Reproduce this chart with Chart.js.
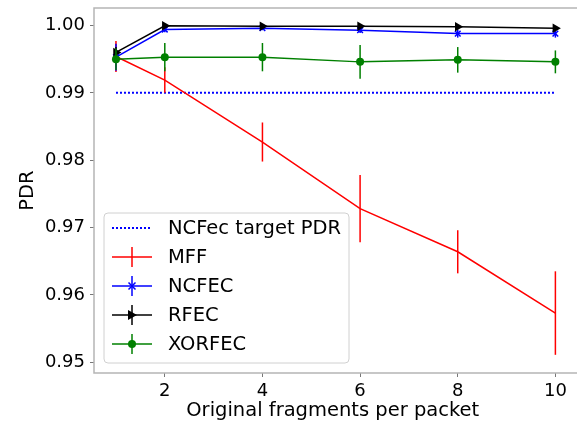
<!DOCTYPE html>
<html>
<head>
<meta charset="utf-8">
<script src="https://cdn.jsdelivr.net/npm/chart.js@4/dist/chart.umd.min.js"></script>
<style>
  html, body { margin: 0; padding: 0; background: #fff; overflow: hidden; }
</style>
</head>
<body>
<canvas id="pdrChart" width="577" height="423"></canvas>
<script>
// data
const fragments = [1, 2, 4, 6, 8, 10];
const xTicks = [2, 4, 6, 8, 10];
const yTicks = [0.95, 0.96, 0.97, 0.98, 0.99, 1.00];

const targetPdr = [0.99, 0.99, 0.99, 0.99, 0.99, 0.99];
const mffPdr = [0.9954, 0.9919, 0.9827, 0.9728, 0.9664, 0.9573];
const mffErr = [0.0023, 0.0019, 0.0029, 0.0050, 0.0032, 0.0062];
const ncfecPdr = [0.9953, 0.9994, 0.9996, 0.9993, 0.9988, 0.9988];
const ncfecErr = [0.0020, 0.0004, 0.0003, 0.0004, 0.0006, 0.0006];
const rfecPdr = [0.9960, 0.99995, 0.9999, 0.9999, 0.9998, 0.9996];
const rfecErr = [0.0008, 0.0001, 0.0001, 0.0001, 0.0001, 0.0001];
const xorPdr = [0.9950, 0.9953, 0.9953, 0.9946, 0.9949, 0.9946];
const xorErr = [0.0016, 0.0021, 0.0021, 0.0025, 0.0019, 0.0017];

const FONT = "'DejaVu Sans', sans-serif";

function pts(ys) {
  return fragments.map((x, i) => ({x: x, y: ys[i]}));
}

// vertical error bars, drawn through the y scale
const errorBars = {
  id: 'errorBars',
  afterDatasetDraw(chart, args) {
    const ds = chart.data.datasets[args.index];
    if (!ds.errors) return;
    const ctx = chart.ctx;
    const yScale = chart.scales.y;
    ctx.save();
    ctx.strokeStyle = ds.borderColor;
    ctx.lineWidth = 1.5;
    args.meta.data.forEach((p, i) => {
      const v = ds.data[i].y, e = ds.errors[i];
      ctx.beginPath();
      ctx.moveTo(p.x, yScale.getPixelForValue(v + e));
      ctx.lineTo(p.x, yScale.getPixelForValue(v - e));
      ctx.stroke();
    });
    ctx.restore();
  }
};

// frame: top, left, bottom (the right spine is outside the crop)
const frame = {
  id: 'frame',
  beforeDatasetsDraw(chart) {
    const a = chart.chartArea, ctx = chart.ctx;
    ctx.save();
    ctx.strokeStyle = '#b5b5b5';
    ctx.lineWidth = 1.5;
    ctx.beginPath();
    ctx.moveTo(chart.width, a.top);
    ctx.lineTo(a.left, a.top);
    ctx.lineTo(a.left, a.bottom);
    ctx.lineTo(chart.width, a.bottom);
    ctx.stroke();
    ctx.restore();
  }
};

function drawMarker(ctx, style, x, y, color) {
  ctx.fillStyle = color;
  ctx.strokeStyle = color;
  ctx.lineWidth = 1.5;
  ctx.beginPath();
  if (style === 'circle') {
    ctx.arc(x, y, 4, 0, Math.PI * 2);
    ctx.fill();
  } else if (style === 'triangle') {
    ctx.moveTo(x + 5, y);
    ctx.lineTo(x - 4, y - 5);
    ctx.lineTo(x - 4, y + 5);
    ctx.closePath();
    ctx.fill();
  } else if (style === 'crossRot') {
    ctx.moveTo(x - 3.5, y - 3.5); ctx.lineTo(x + 3.5, y + 3.5);
    ctx.moveTo(x + 3.5, y - 3.5); ctx.lineTo(x - 3.5, y + 3.5);
    ctx.stroke();
  }
}

const boxLegend = {
  id: 'boxLegend',
  afterDraw(chart) {
    const ctx = chart.ctx;
    const bx = 104, by = 213, bw = 245, bh = 150, r = 4;
    ctx.save();
    ctx.beginPath();
    ctx.moveTo(bx + r, by);
    ctx.arcTo(bx + bw, by, bx + bw, by + bh, r);
    ctx.arcTo(bx + bw, by + bh, bx, by + bh, r);
    ctx.arcTo(bx, by + bh, bx, by, r);
    ctx.arcTo(bx, by, bx + bw, by, r);
    ctx.closePath();
    ctx.fillStyle = 'rgba(255,255,255,0.85)';
    ctx.fill();
    ctx.strokeStyle = '#d0d0d0';
    ctx.lineWidth = 1;
    ctx.stroke();

    ctx.font = '19.5px ' + FONT;
    ctx.textBaseline = 'middle';
    ctx.textAlign = 'left';
    chart.data.datasets.forEach((ds, i) => {
      const y = 228 + i * 29;
      ctx.strokeStyle = ds.borderColor;
      ctx.lineWidth = ds.borderWidth;
      ctx.setLineDash(ds.borderDash || []);
      ctx.beginPath();
      ctx.moveTo(112, y);
      ctx.lineTo(152, y);
      ctx.stroke();
      ctx.setLineDash([]);
      if (ds.errors) {
        ctx.lineWidth = 1.5;
        ctx.beginPath();
        ctx.moveTo(132, y - 10);
        ctx.lineTo(132, y + 10);
        ctx.stroke();
      }
      if (ds.legendMarker) drawMarker(ctx, ds.legendMarker, 132, y, ds.borderColor);
      ctx.fillStyle = '#000';
      ctx.fillText(ds.label, 168, y + 1);
    });
    ctx.restore();
  }
};

new Chart(document.getElementById('pdrChart'), {
  type: 'line',
  data: {
    datasets: [
      {
        label: 'NCFec target PDR',
        data: pts(targetPdr),
        borderColor: '#0000ff',
        borderWidth: 2,
        borderDash: [2, 2],
        pointRadius: 0,
        order: 5
      },
      {
        label: 'MFF',
        data: pts(mffPdr),
        errors: mffErr,
        borderColor: '#ff0000',
        borderWidth: 1.5,
        pointRadius: 0,
        order: 4
      },
      {
        label: 'NCFEC',
        data: pts(ncfecPdr),
        errors: ncfecErr,
        borderColor: '#0000ff',
        backgroundColor: '#0000ff',
        borderWidth: 1.5,
        pointStyle: 'crossRot',
        pointRadius: 4,
        pointBorderWidth: 1.5,
        legendMarker: 'crossRot',
        order: 3
      },
      {
        label: 'RFEC',
        data: pts(rfecPdr),
        errors: rfecErr,
        borderColor: '#000000',
        backgroundColor: '#000000',
        borderWidth: 1.5,
        pointStyle: 'triangle',
        pointRotation: 90,
        pointRadius: 5.5,
        pointBorderWidth: 0,
        legendMarker: 'triangle',
        order: 2
      },
      {
        label: 'XORFEC',
        data: pts(xorPdr),
        errors: xorErr,
        borderColor: '#008000',
        backgroundColor: '#008000',
        borderWidth: 1.5,
        pointStyle: 'circle',
        pointRadius: 4,
        pointBorderWidth: 0,
        legendMarker: 'circle',
        order: 1
      }
    ]
  },
  options: {
    responsive: false,
    animation: false,
    devicePixelRatio: 1,
    layout: { padding: { top: 8, right: 0, left: 0, bottom: 0 } },
    plugins: {
      legend: { display: false },
      tooltip: { enabled: false }
    },
    scales: {
      x: {
        type: 'linear',
        min: 0.55,
        max: 10.33,
        afterBuildTicks: (axis) => { axis.ticks = xTicks.map(v => ({value: v})); },
        afterFit: (axis) => {
          axis.height = 50;
          axis.paddingLeft = 0;
          axis.paddingRight = 0;
        },
        border: { display: false },
        grid: { drawOnChartArea: false, drawTicks: true, tickLength: 4, color: '#777', lineWidth: 1 },
        ticks: { color: '#000', font: { family: FONT, size: 18 }, padding: 4, maxRotation: 0 },
        title: {
          display: true,
          text: 'Original fragments per packet',
          color: '#000',
          font: { family: FONT, size: 19.5 },
          padding: { top: 0, bottom: 0 }
        }
      },
      y: {
        min: 0.9484,
        max: 1.0026,
        afterBuildTicks: (axis) => { axis.ticks = yTicks.map(v => ({value: v})); },
        afterFit: (axis) => {
          axis.width = 94;
          axis.paddingTop = 0;
          axis.paddingBottom = 0;
        },
        border: { display: false },
        grid: { drawOnChartArea: false, drawTicks: true, tickLength: 4, color: '#777', lineWidth: 1 },
        ticks: {
          color: '#000',
          font: { family: FONT, size: 18 },
          padding: 5,
          callback: (v) => Number(v).toFixed(2)
        },
        title: {
          display: true,
          text: 'PDR',
          color: '#000',
          font: { family: FONT, size: 19.5 },
          padding: { top: 16, bottom: 0 }
        }
      }
    }
  },
  plugins: [frame, errorBars, boxLegend]
});
</script>
</body>
</html>
